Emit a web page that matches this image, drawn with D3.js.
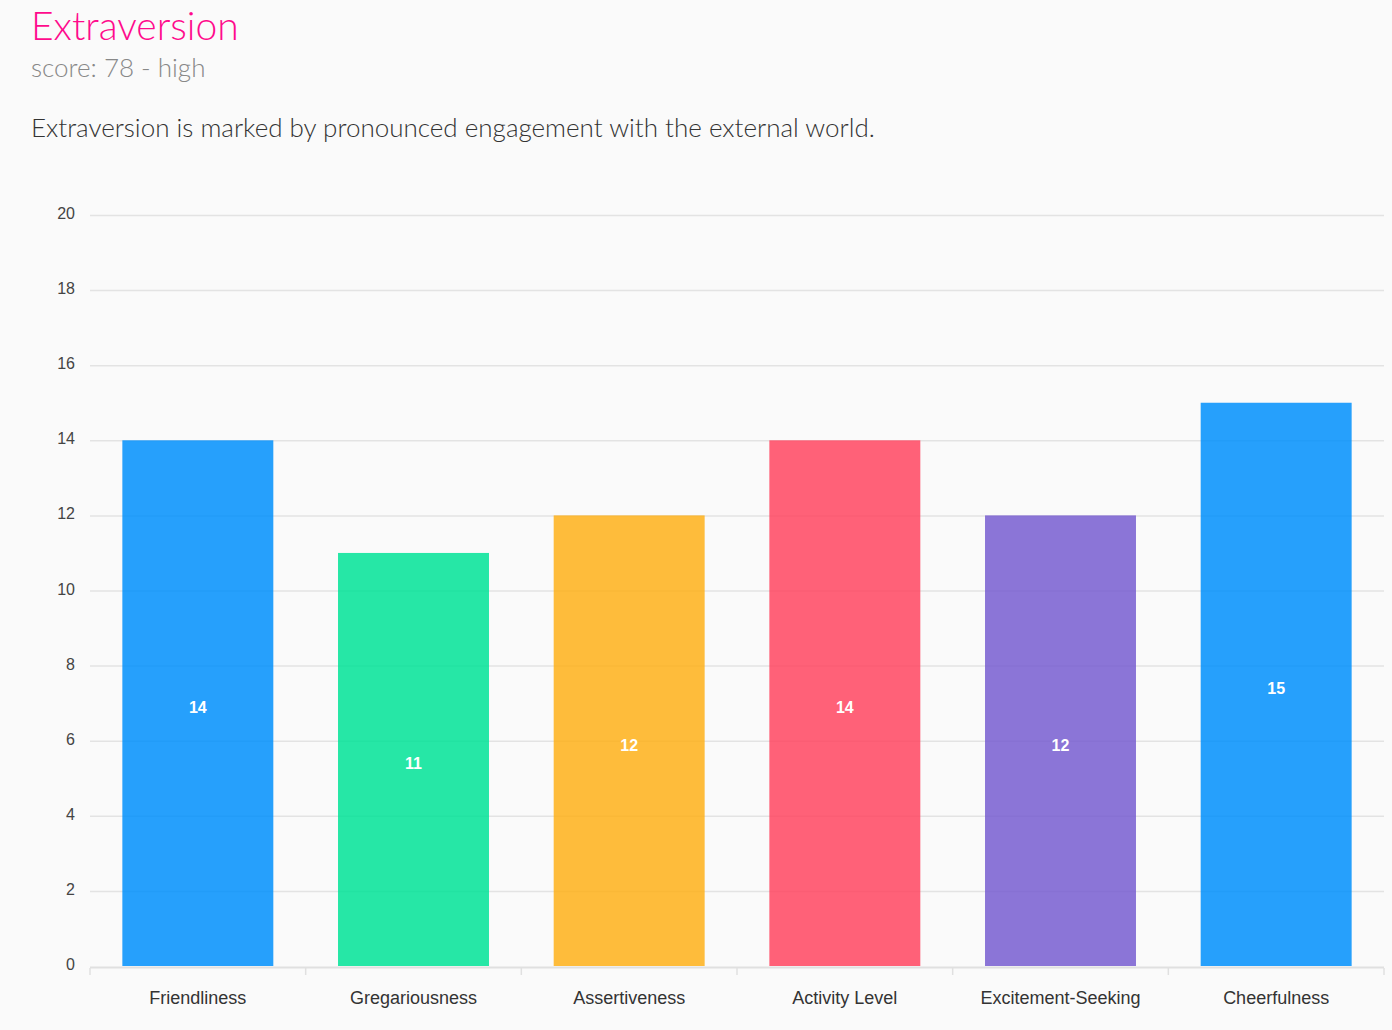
<!DOCTYPE html>
<html>
<head>
<meta charset="utf-8">
<script src="https://cdn.jsdelivr.net/npm/d3@7"></script>
<style>
  html, body { margin: 0; padding: 0; background: #fafafa; }
  .head { position: absolute; left: 31px; top: 0; font-family: Lato, sans-serif; }
  .title { color: #ff0a8c; font-size: 39px; font-weight: 300; margin: 0; position: absolute; top: 2px; white-space: nowrap; }
  .score { color: #888; font-size: 26px; font-weight: 300; position: absolute; top: 51px; white-space: nowrap; }
  .desc { color: #333; font-size: 26px; font-weight: 300; position: absolute; top: 111px; white-space: nowrap; }
  #chart { position: absolute; left: 0; top: 0; }
  .grid line { stroke: #e3e3e3; stroke-width: 1.5; }
  .grid path { display: none; }
</style>
</head>
<body>
<div class="head">
  <div class="title">Extraversion</div>
  <div class="score">score: 78 - high</div>
  <div class="desc">Extraversion is marked by pronounced engagement with the external world.</div>
</div>
<svg id="chart" width="1392" height="1030"></svg>
<script>
const categories = ['Friendliness', 'Gregariousness', 'Assertiveness', 'Activity Level', 'Excitement-Seeking', 'Cheerfulness'];
const values = [14, 11, 12, 14, 12, 15];
const colors = ['#008FFB', '#00E396', '#FEB019', '#FF4560', '#775DD0', '#008FFB'];
const yTicks = [0, 2, 4, 6, 8, 10, 12, 14, 16, 18, 20];

const svg = d3.select('#chart');
const plotLeft = 90, plotRight = 1384, plotTop = 215, plotBottom = 966;

const x = d3.scaleBand().domain(categories).range([plotLeft, plotRight]).paddingInner(0.3).paddingOuter(0.15);
const y = d3.scaleLinear().domain([0, 20]).range([plotBottom, plotTop]);

// 그리드
svg.append('g')
  .attr('class', 'grid')
  .attr('transform', `translate(${plotLeft},0)`)
  .call(d3.axisLeft(y).tickValues(yTicks.slice(1)).tickSize(-(plotRight - plotLeft)).tickFormat(''));

// y축 라벨
svg.append('g')
  .selectAll('text')
  .data(yTicks)
  .enter()
  .append('text')
  .attr('x', 75)
  .attr('y', (d) => y(d) + 4)
  .attr('text-anchor', 'end')
  .attr('font-family', 'Liberation Sans, Arial, sans-serif')
  .attr('font-size', 16)
  .attr('fill', '#444')
  .text((d) => d);

// 막대
svg.append('g')
  .selectAll('rect')
  .data(values)
  .enter()
  .append('rect')
  .attr('x', (d, i) => x(categories[i]))
  .attr('y', (d) => y(d))
  .attr('width', x.bandwidth())
  .attr('height', (d) => y(0) - y(d))
  .attr('fill', (d, i) => colors[i])
  .attr('fill-opacity', 0.85);

// 막대 값 라벨
svg.append('g')
  .selectAll('text')
  .data(values)
  .enter()
  .append('text')
  .attr('x', (d, i) => x(categories[i]) + x.bandwidth() / 2)
  .attr('y', (d) => (y(d) + y(0)) / 2 + 10)
  .attr('text-anchor', 'middle')
  .attr('font-family', 'Liberation Sans, Arial, sans-serif')
  .attr('font-size', 16)
  .attr('font-weight', 'bold')
  .attr('fill', '#fff')
  .text((d) => d);

// x축
const step = x.step();
const xAxis = svg.append('g');
xAxis.append('line')
  .attr('x1', plotLeft).attr('x2', plotRight)
  .attr('y1', y(0) + 1.5).attr('y2', y(0) + 1.5)
  .attr('stroke', '#e0e0e0').attr('stroke-width', 2);
xAxis.selectAll('.tick')
  .data(d3.range(categories.length + 1))
  .enter()
  .append('line')
  .attr('x1', (i) => plotLeft + i * step)
  .attr('x2', (i) => plotLeft + i * step)
  .attr('y1', y(0) + 2)
  .attr('y2', y(0) + 9)
  .attr('stroke', '#e0e0e0')
  .attr('stroke-width', 1.5);
xAxis.selectAll('.lbl')
  .data(categories)
  .enter()
  .append('text')
  .attr('x', (d) => x(d) + x.bandwidth() / 2)
  .attr('y', 1004)
  .attr('text-anchor', 'middle')
  .attr('font-family', 'Liberation Sans, Arial, sans-serif')
  .attr('font-size', 18)
  .attr('fill', '#333')
  .text((d) => d);
</script>
</body>
</html>
